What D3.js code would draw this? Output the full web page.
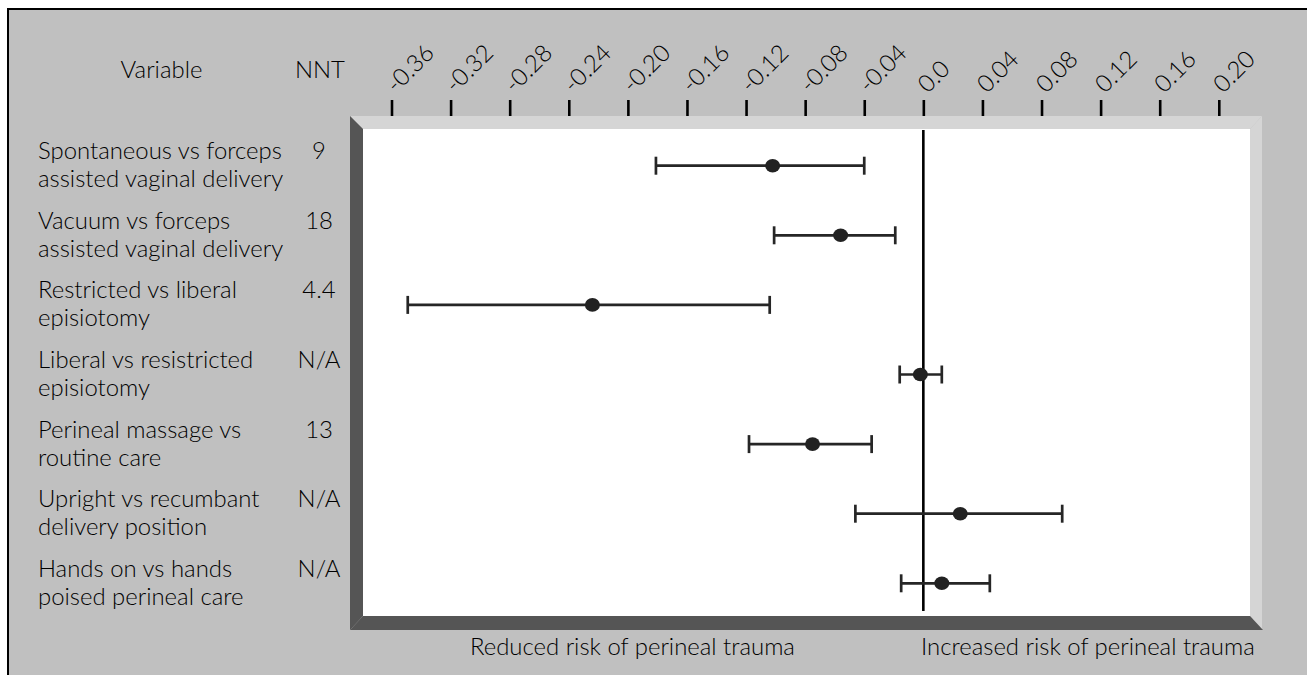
<!DOCTYPE html>
<html><head><meta charset="utf-8">
<script src="https://cdn.jsdelivr.net/npm/d3@7/dist/d3.min.js"></script>
<style>html,body{margin:0;padding:0;background:#fff;overflow:hidden} text{font-weight:300}</style>
</head><body>
<script>
// ---- data ----
const variables = [
  ["Spontaneous vs forceps", "assisted vaginal delivery"],
  ["Vacuum vs forceps", "assisted vaginal delivery"],
  ["Restricted vs liberal", "episiotomy"],
  ["Liberal vs resistricted", "episiotomy"],
  ["Perineal massage vs", "routine care"],
  ["Upright vs recumbant", "delivery position"],
  ["Hands on vs hands", "poised perineal care"]
];
const nnt = ["9", "18", "4.4", "N/A", "13", "N/A", "N/A"];
const estimate = [-0.102, -0.056, -0.224, -0.002, -0.075, 0.025, 0.0125];
const lower    = [-0.181, -0.101, -0.349, -0.016, -0.118, -0.046, -0.015];
const upper    = [-0.040, -0.019, -0.104,  0.0125, -0.035, 0.094,  0.045];
const tickValues = [-0.36, -0.32, -0.28, -0.24, -0.20, -0.16, -0.12, -0.08, -0.04, 0.0, 0.04, 0.08, 0.12, 0.16, 0.20];
const tickLabels = ["-0.36", "-0.32", "-0.28", "-0.24", "-0.20", "-0.16", "-0.12", "-0.08", "-0.04", "0.0", "0.04", "0.08", "0.12", "0.16", "0.20"];
const headers = ["Variable", "NNT"];
const footers = ["Reduced risk of perineal trauma", "Increased risk of perineal trauma"];

const W = 1307, H = 675;
const FONT = "Lato, 'Open Sans', sans-serif";
const TXT = "#000";
const svg = d3.select("body").append("svg").attr("width", W).attr("height", H);

// calibrate font size
const probe = svg.append("text").attr("font-family", FONT).attr("font-size", 20).text(footers[1]);
const fs = 20 * 334 / probe.node().getComputedTextLength();
probe.remove();

// background
svg.append("rect").attr("x", 8).attr("y", 9).attr("width", W + 20).attr("height", H + 20)
  .attr("fill", "#c0c0c0").attr("stroke", "#000").attr("stroke-width", 2);

// frame geometry
const fx0 = 350, fy0 = 116, fx1 = 1262, fy1 = 630, b = 13;
const ix0 = fx0 + b, iy0 = fy0 + b, ix1 = fx1 - 12, iy1 = fy1 - 14;
const poly = pts => pts.map(p => p.join(",")).join(" ");
svg.append("rect").attr("x", ix0).attr("y", iy0).attr("width", ix1 - ix0).attr("height", iy1 - iy0).attr("fill", "#fff");
svg.append("polygon").attr("points", poly([[fx0, fy0], [fx1, fy0], [ix1, iy0], [ix0, iy0]])).attr("fill", "#d5d5d5");
svg.append("polygon").attr("points", poly([[ix1, iy0], [fx1, fy0], [fx1, fy1], [ix1, iy1]])).attr("fill", "#d5d5d5");
svg.append("polygon").attr("points", poly([[fx0, fy0], [ix0, iy0], [ix0, iy1], [fx0, fy1]])).attr("fill", "#555");
svg.append("polygon").attr("points", poly([[fx0, fy1], [ix0, iy1], [ix1, iy1], [fx1 + 1, fy1]])).attr("fill", "#555");

// scales
const x = d3.scaleLinear().domain([-0.36, 0.20]).range([391.5, 1218.8]);
const y = d3.scaleBand().domain(d3.range(variables.length)).range([130.9, 618.1]);
const yc = i => y(i) + y.bandwidth() / 2;

// top axis
const axis = d3.axisTop(x).tickValues(tickValues)
  .tickFormat((d, i) => tickLabels[i]).tickSizeInner(16).tickSizeOuter(0).tickPadding(0);
const ag = svg.append("g").attr("transform", "translate(0,116)").call(axis);
ag.select(".domain").remove();
ag.selectAll(".tick line").attr("stroke", "#000").attr("stroke-width", 2.6);
ag.selectAll(".tick text")
  .attr("font-family", FONT).attr("font-size", fs).attr("fill", TXT)
  .attr("text-anchor", "start")
  .attr("transform", "translate(4,-22) rotate(-45)")
  .attr("x", 0).attr("y", 0).attr("dy", 0);

// zero line
svg.append("line").attr("x1", x(0)).attr("x2", x(0)).attr("y1", iy0 + 1).attr("y2", 611)
  .attr("stroke", "#000").attr("stroke-width", 2.6);

// headers
svg.append("text").attr("x", 161.5).attr("y", 78).attr("text-anchor", "middle")
  .attr("font-family", FONT).attr("font-size", fs).attr("fill", TXT).text(headers[0]);
svg.append("text").attr("x", 320).attr("y", 78).attr("text-anchor", "middle")
  .attr("font-family", FONT).attr("font-size", fs).attr("fill", TXT).text(headers[1]);

// row labels
const rows = svg.append("g").selectAll("g").data(variables).join("g");
rows.each(function (d, i) {
  const g = d3.select(this);
  g.append("text").attr("x", 38).attr("y", yc(i) - 6.5)
    .attr("font-family", FONT).attr("font-size", fs).attr("fill", TXT).text(d[0]);
  g.append("text").attr("x", 38).attr("y", yc(i) + 21.5)
    .attr("font-family", FONT).attr("font-size", fs).attr("fill", TXT).text(d[1]);
  g.append("text").attr("x", 319).attr("y", yc(i) - 6.5).attr("text-anchor", "middle")
    .attr("font-family", FONT).attr("font-size", fs).attr("fill", TXT).text(nnt[i]);
});

// error bars
const eb = svg.append("g").selectAll("g").data(estimate).join("g");
const col = "#262626";
eb.append("line").attr("x1", (d, i) => x(lower[i])).attr("x2", (d, i) => x(upper[i]))
  .attr("y1", (d, i) => yc(i)).attr("y2", (d, i) => yc(i)).attr("stroke", col).attr("stroke-width", 2.7);
eb.append("line").attr("x1", (d, i) => x(lower[i])).attr("x2", (d, i) => x(lower[i]))
  .attr("y1", (d, i) => yc(i) - 9).attr("y2", (d, i) => yc(i) + 9).attr("stroke", col).attr("stroke-width", 2.7);
eb.append("line").attr("x1", (d, i) => x(upper[i])).attr("x2", (d, i) => x(upper[i]))
  .attr("y1", (d, i) => yc(i) - 9).attr("y2", (d, i) => yc(i) + 9).attr("stroke", col).attr("stroke-width", 2.7);
eb.append("ellipse").attr("cx", d => x(d)).attr("cy", (d, i) => yc(i)).attr("rx", 7.5).attr("ry", 6.8).attr("fill", "#222");

// footers
svg.append("text").attr("x", 470).attr("y", 655).attr("font-family", FONT).attr("font-size", fs).attr("fill", TXT).text(footers[0]);
svg.append("text").attr("x", 921).attr("y", 655).attr("font-family", FONT).attr("font-size", fs).attr("fill", TXT).text(footers[1]);
</script>
</body></html>
